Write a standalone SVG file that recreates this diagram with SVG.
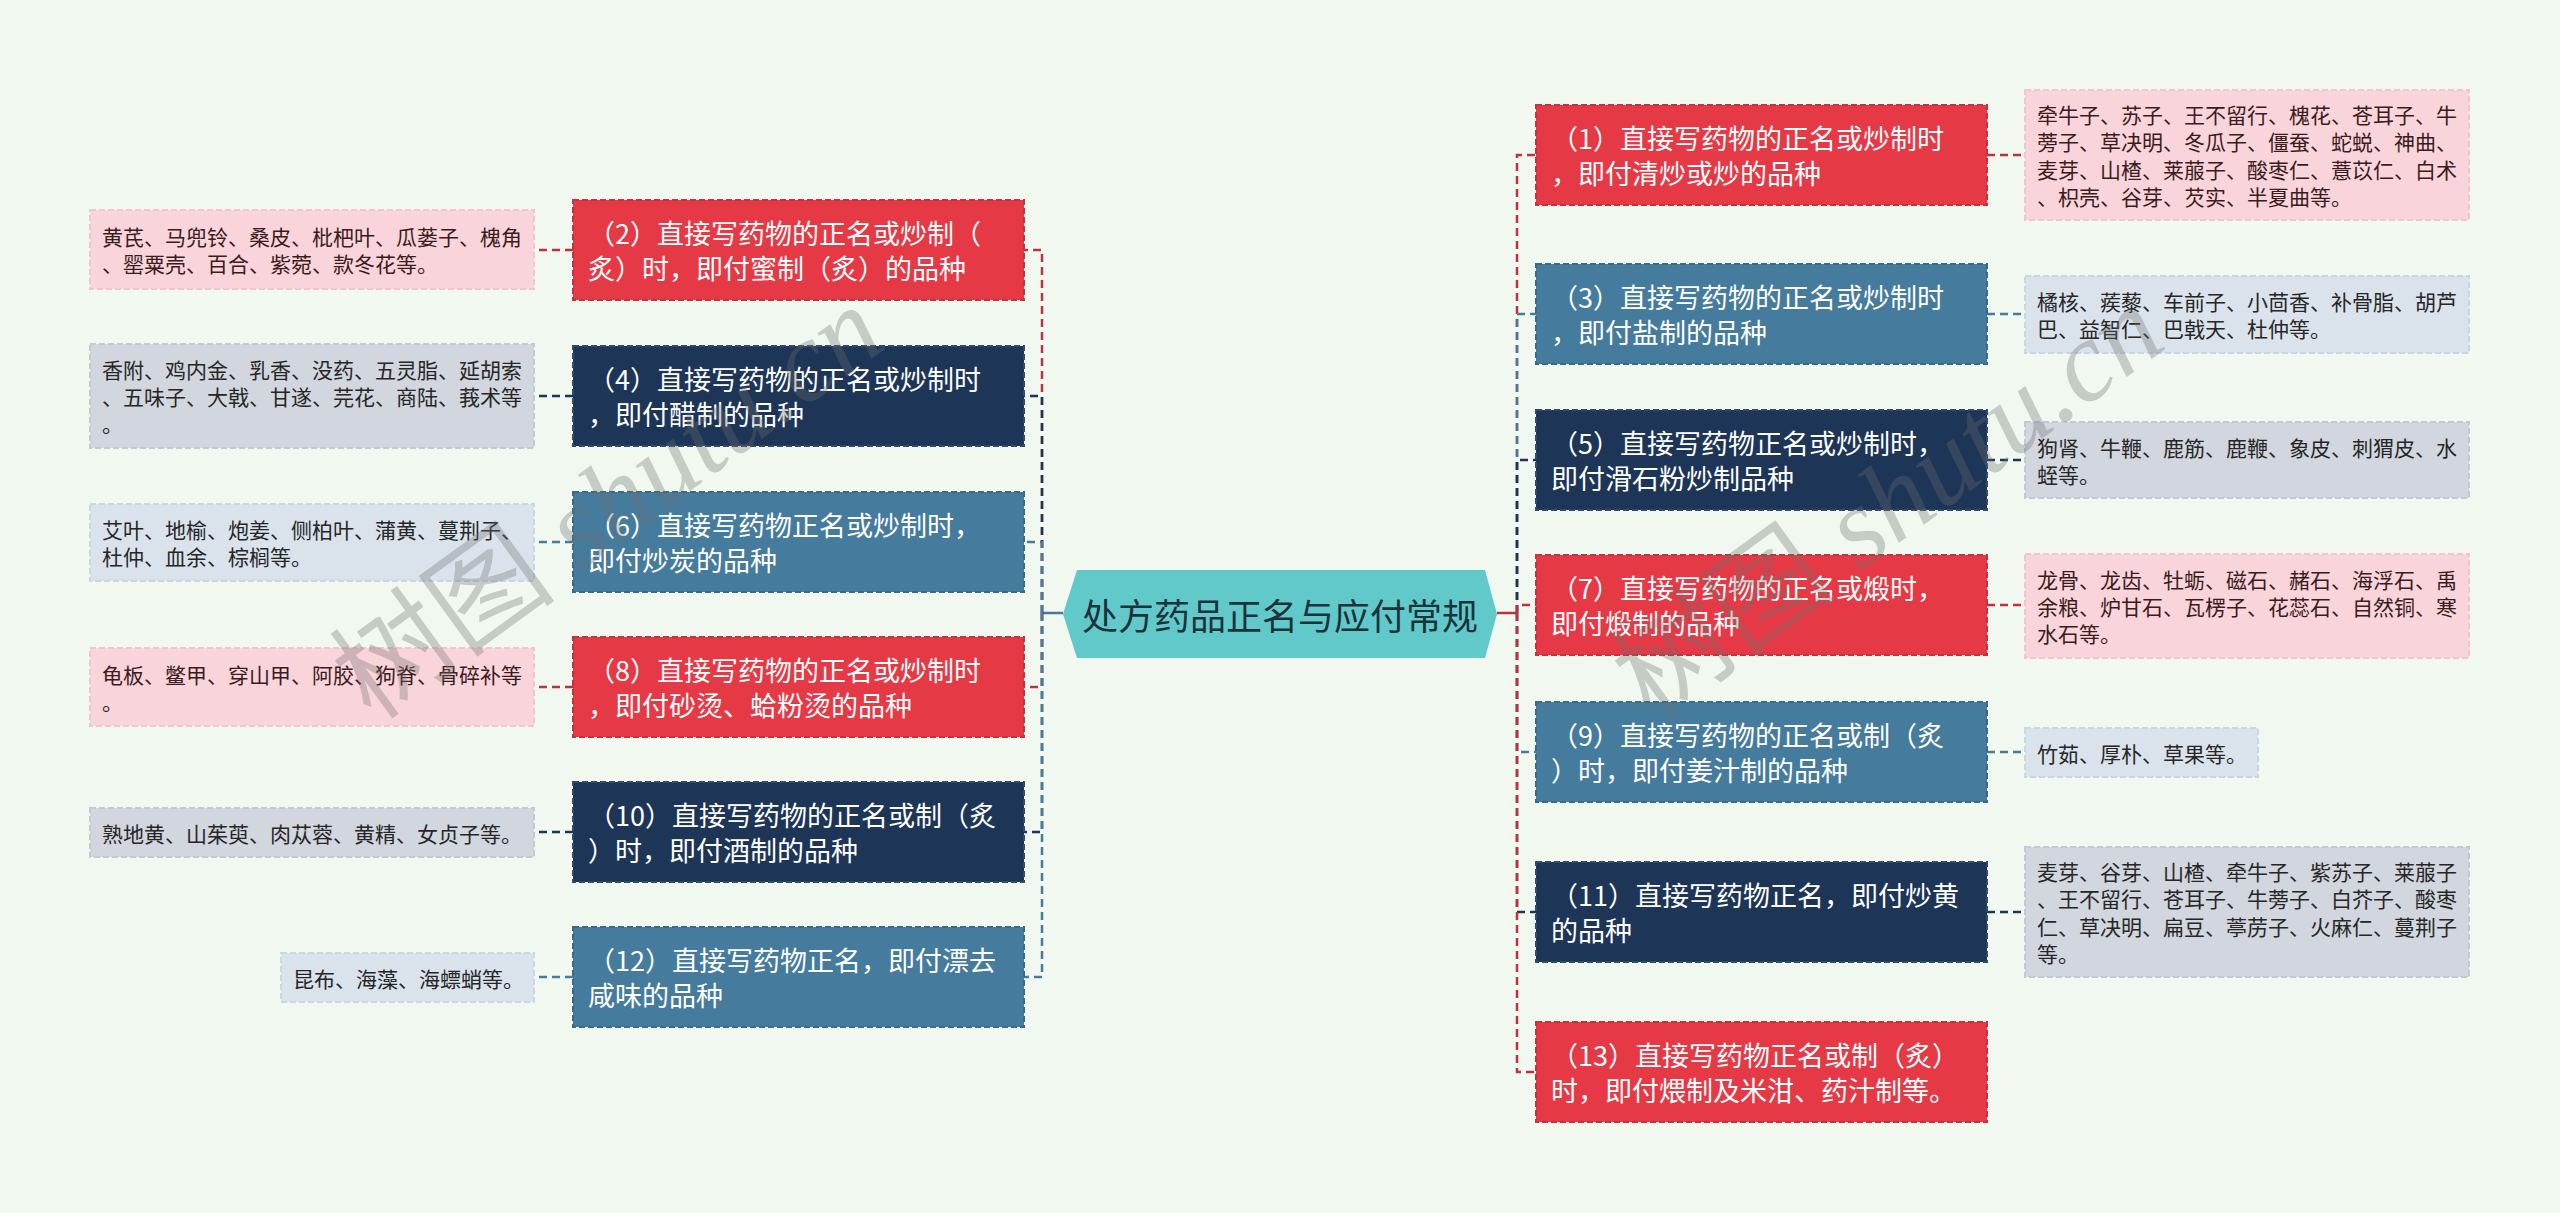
<svg xmlns="http://www.w3.org/2000/svg" width="2560" height="1213" viewBox="0 0 2560 1213">
<style>
.bg{fill:#F0F8EF}
.t1{font-family:"Noto Sans CJK SC","Noto Sans",sans-serif;font-size:27px;fill:#FFFFFF}
.t2{font-family:"Noto Sans CJK SC","Noto Sans",sans-serif;font-size:21px;fill:#262626}
.t2p{fill:#3A1B20}
.tm{font-family:"Noto Sans CJK SC","Noto Sans",sans-serif;font-size:36px;fill:#1B3339}
.red{fill:#E63946;stroke:#C92F3D;stroke-width:2;stroke-dasharray:6 3}
.navy{fill:#1D3557;stroke:#32496B;stroke-width:2;stroke-dasharray:6 3}
.steel{fill:#457B9D;stroke:#3A6A88;stroke-width:2;stroke-dasharray:6 3}
.lp{fill:#F9D5DB;stroke:#F3C4CC;stroke-width:2;stroke-dasharray:6 3}
.lg{fill:#D2D6DE;stroke:#C3C8D2;stroke-width:2;stroke-dasharray:6 3}
.lb{fill:#DAE3EC;stroke:#CAD6E2;stroke-width:2;stroke-dasharray:6 3}
.c{fill:none;stroke-width:2.5;stroke-dasharray:8 5}
.cr{stroke:#C0313F}.cn{stroke:#1D3557}.cs{stroke:#457B9D}
.wm{font-family:"Liberation Serif","Noto Sans CJK SC",serif;font-size:114px;fill:#6E6E6E;opacity:0.32}
</style>
<rect class="bg" x="0" y="0" width="2560" height="1213"/>

<g id="connectors">
  <line x1="1042" y1="613" x2="1063" y2="613" stroke="#457B9D" stroke-width="2.5"/>
  <line x1="1497" y1="613" x2="1517" y2="613" stroke="#C0313F" stroke-width="2.5"/>
  <path class="c cr" d="M1042,613 V250 H1024"/>
  <path class="c cn" d="M1042,613 V396 H1024"/>
  <path class="c cs" d="M1042,613 V542 H1024"/>
  <path class="c cr" d="M1042,613 V687 H1024"/>
  <path class="c cn" d="M1042,613 V832 H1024"/>
  <path class="c cs" d="M1042,613 V977 H1024"/>
  <path class="c cr" d="M1517,613 V155 H1536"/>
  <path class="c cs" d="M1517,613 V314 H1536"/>
  <path class="c cn" d="M1517,613 V460 H1536"/>
  <path class="c cr" d="M1517,613 V605 H1536"/>
  <path class="c cs" d="M1517,613 V752 H1536"/>
  <path class="c cn" d="M1517,613 V912 H1536"/>
  <path class="c cr" d="M1517,613 V1072 H1536"/>
  <path class="c cr" d="M573,250 H534"/>
  <path class="c cn" d="M573,396 H534"/>
  <path class="c cs" d="M573,542 H534"/>
  <path class="c cr" d="M573,687 H534"/>
  <path class="c cn" d="M573,832 H534"/>
  <path class="c cs" d="M573,977 H534"/>
  <path class="c cr" d="M1987,155 H2025"/>
  <path class="c cs" d="M1987,314 H2025"/>
  <path class="c cn" d="M1987,460 H2025"/>
  <path class="c cr" d="M1987,605 H2025"/>
  <path class="c cs" d="M1987,752 H2025"/>
  <path class="c cn" d="M1987,912 H2025"/>
</g>

<g id="root">
  <polygon points="1063,614 1077,570 1485,570 1497,614 1485,658 1077,658" fill="#62C9CB"/>
  <text class="tm" x="1280" y="614" text-anchor="middle" dominant-baseline="central">处方药品正名与应付常规</text>
</g>

<g id="n2"><rect class="red" x="573" y="200" width="451" height="100"/>
  <text class="t1" x="588" y="232.5" dominant-baseline="central">（2）直接写药物的正名或炒制（</text>
  <text class="t1" x="588" y="267.5" dominant-baseline="central">炙）时，即付蜜制（炙）的品种</text></g>
<g id="n4"><rect class="navy" x="573" y="346" width="451" height="100"/>
  <text class="t1" x="588" y="378.5" dominant-baseline="central">（4）直接写药物的正名或炒制时</text>
  <text class="t1" x="588" y="413.5" dominant-baseline="central">，即付醋制的品种</text></g>
<g id="n6"><rect class="steel" x="573" y="492" width="451" height="100"/>
  <text class="t1" x="588" y="524.5" dominant-baseline="central">（6）直接写药物正名或炒制时，</text>
  <text class="t1" x="588" y="559.5" dominant-baseline="central">即付炒炭的品种</text></g>
<g id="n8"><rect class="red" x="573" y="637" width="451" height="100"/>
  <text class="t1" x="588" y="669.5" dominant-baseline="central">（8）直接写药物的正名或炒制时</text>
  <text class="t1" x="588" y="704.5" dominant-baseline="central">，即付砂烫、蛤粉烫的品种</text></g>
<g id="n10"><rect class="navy" x="573" y="782" width="451" height="100"/>
  <text class="t1" x="588" y="814.5" dominant-baseline="central">（10）直接写药物的正名或制（炙</text>
  <text class="t1" x="588" y="849.5" dominant-baseline="central">）时，即付酒制的品种</text></g>
<g id="n12"><rect class="steel" x="573" y="927" width="451" height="100"/>
  <text class="t1" x="588" y="959.5" dominant-baseline="central">（12）直接写药物正名，即付漂去</text>
  <text class="t1" x="588" y="994.5" dominant-baseline="central">咸味的品种</text></g>

<g id="l2"><rect class="lp" x="90" y="210" width="444" height="79"/>
  <text class="t2 t2p" x="102" y="236" dominant-baseline="central">黄芪、马兜铃、桑皮、枇杷叶、瓜蒌子、槐角</text>
  <text class="t2 t2p" x="102" y="263" dominant-baseline="central">、罂粟壳、百合、紫菀、款冬花等。</text></g>
<g id="l4"><rect class="lg" x="90" y="344" width="444" height="104"/>
  <text class="t2" x="102" y="369" dominant-baseline="central">香附、鸡内金、乳香、没药、五灵脂、延胡索</text>
  <text class="t2" x="102" y="396" dominant-baseline="central">、五味子、大戟、甘遂、芫花、商陆、莪术等</text>
  <text class="t2" x="102" y="423" dominant-baseline="central">。</text></g>
<g id="l6"><rect class="lb" x="90" y="504" width="444" height="77"/>
  <text class="t2" x="102" y="529" dominant-baseline="central">艾叶、地榆、炮姜、侧柏叶、蒲黄、蔓荆子、</text>
  <text class="t2" x="102" y="556" dominant-baseline="central">杜仲、血余、棕榈等。</text></g>
<g id="l8"><rect class="lp" x="90" y="648" width="444" height="78"/>
  <text class="t2 t2p" x="102" y="673.5" dominant-baseline="central">龟板、鳖甲、穿山甲、阿胶、狗脊、骨碎补等</text>
  <text class="t2 t2p" x="102" y="700.5" dominant-baseline="central">。</text></g>
<g id="l10"><rect class="lg" x="90" y="808" width="444" height="49"/>
  <text class="t2" x="102" y="832.5" dominant-baseline="central">熟地黄、山茱萸、肉苁蓉、黄精、女贞子等。</text></g>
<g id="l12"><rect class="lb" x="281" y="953" width="253" height="49"/>
  <text class="t2" x="293" y="977.5" dominant-baseline="central">昆布、海藻、海螵蛸等。</text></g>

<g id="n1"><rect class="red" x="1536" y="105" width="451" height="100"/>
  <text class="t1" x="1551" y="137.5" dominant-baseline="central">（1）直接写药物的正名或炒制时</text>
  <text class="t1" x="1551" y="172.5" dominant-baseline="central">，即付清炒或炒的品种</text></g>
<g id="n3"><rect class="steel" x="1536" y="264" width="451" height="100"/>
  <text class="t1" x="1551" y="296.5" dominant-baseline="central">（3）直接写药物的正名或炒制时</text>
  <text class="t1" x="1551" y="331.5" dominant-baseline="central">，即付盐制的品种</text></g>
<g id="n5"><rect class="navy" x="1536" y="410" width="451" height="100"/>
  <text class="t1" x="1551" y="442.5" dominant-baseline="central">（5）直接写药物正名或炒制时，</text>
  <text class="t1" x="1551" y="477.5" dominant-baseline="central">即付滑石粉炒制品种</text></g>
<g id="n7"><rect class="red" x="1536" y="555" width="451" height="100"/>
  <text class="t1" x="1551" y="587.5" dominant-baseline="central">（7）直接写药物的正名或煅时，</text>
  <text class="t1" x="1551" y="622.5" dominant-baseline="central">即付煅制的品种</text></g>
<g id="n9"><rect class="steel" x="1536" y="702" width="451" height="100"/>
  <text class="t1" x="1551" y="734.5" dominant-baseline="central">（9）直接写药物的正名或制（炙</text>
  <text class="t1" x="1551" y="769.5" dominant-baseline="central">）时，即付姜汁制的品种</text></g>
<g id="n11"><rect class="navy" x="1536" y="862" width="451" height="100"/>
  <text class="t1" x="1551" y="894.5" dominant-baseline="central">（11）直接写药物正名，即付炒黄</text>
  <text class="t1" x="1551" y="929.5" dominant-baseline="central">的品种</text></g>
<g id="n13"><rect class="red" x="1536" y="1022" width="451" height="100"/>
  <text class="t1" x="1551" y="1054.5" dominant-baseline="central">（13）直接写药物正名或制（炙）</text>
  <text class="t1" x="1551" y="1089.5" dominant-baseline="central">时，即付煨制及米泔、药汁制等。</text></g>

<g id="r1"><rect class="lp" x="2025" y="90" width="444" height="130"/>
  <text class="t2 t2p" x="2037" y="114.2" dominant-baseline="central">牵牛子、苏子、王不留行、槐花、苍耳子、牛</text>
  <text class="t2 t2p" x="2037" y="141.4" dominant-baseline="central">蒡子、草决明、冬瓜子、僵蚕、蛇蜕、神曲、</text>
  <text class="t2 t2p" x="2037" y="168.6" dominant-baseline="central">麦芽、山楂、莱菔子、酸枣仁、薏苡仁、白术</text>
  <text class="t2 t2p" x="2037" y="195.8" dominant-baseline="central">、枳壳、谷芽、芡实、半夏曲等。</text></g>
<g id="r3"><rect class="lb" x="2025" y="276" width="444" height="77"/>
  <text class="t2" x="2037" y="301" dominant-baseline="central">橘核、蒺藜、车前子、小茴香、补骨脂、胡芦</text>
  <text class="t2" x="2037" y="328" dominant-baseline="central">巴、益智仁、巴戟天、杜仲等。</text></g>
<g id="r5"><rect class="lg" x="2025" y="422" width="444" height="76"/>
  <text class="t2" x="2037" y="446.5" dominant-baseline="central">狗肾、牛鞭、鹿筋、鹿鞭、象皮、刺猬皮、水</text>
  <text class="t2" x="2037" y="473.5" dominant-baseline="central">蛭等。</text></g>
<g id="r7"><rect class="lp" x="2025" y="554" width="444" height="104"/>
  <text class="t2 t2p" x="2037" y="579" dominant-baseline="central">龙骨、龙齿、牡蛎、磁石、赭石、海浮石、禹</text>
  <text class="t2 t2p" x="2037" y="606" dominant-baseline="central">余粮、炉甘石、瓦楞子、花蕊石、自然铜、寒</text>
  <text class="t2 t2p" x="2037" y="633" dominant-baseline="central">水石等。</text></g>
<g id="r9"><rect class="lb" x="2025" y="728" width="233" height="49"/>
  <text class="t2" x="2037" y="752.5" dominant-baseline="central">竹茹、厚朴、草果等。</text></g>
<g id="r11"><rect class="lg" x="2025" y="847" width="444" height="130"/>
  <text class="t2" x="2037" y="871.2" dominant-baseline="central">麦芽、谷芽、山楂、牵牛子、紫苏子、莱菔子</text>
  <text class="t2" x="2037" y="898.4" dominant-baseline="central">、王不留行、苍耳子、牛蒡子、白芥子、酸枣</text>
  <text class="t2" x="2037" y="925.6" dominant-baseline="central">仁、草决明、扁豆、葶苈子、火麻仁、蔓荆子</text>
  <text class="t2" x="2037" y="952.8" dominant-baseline="central">等。</text></g>

<g id="watermark">
  <text class="wm" transform="translate(372,722) rotate(-36)">树图 <tspan font-style="italic">shutu.cn</tspan></text>
  <text class="wm" transform="translate(1652,722) rotate(-36)">树图 <tspan font-style="italic">shutu.cn</tspan></text>
</g>
</svg>
